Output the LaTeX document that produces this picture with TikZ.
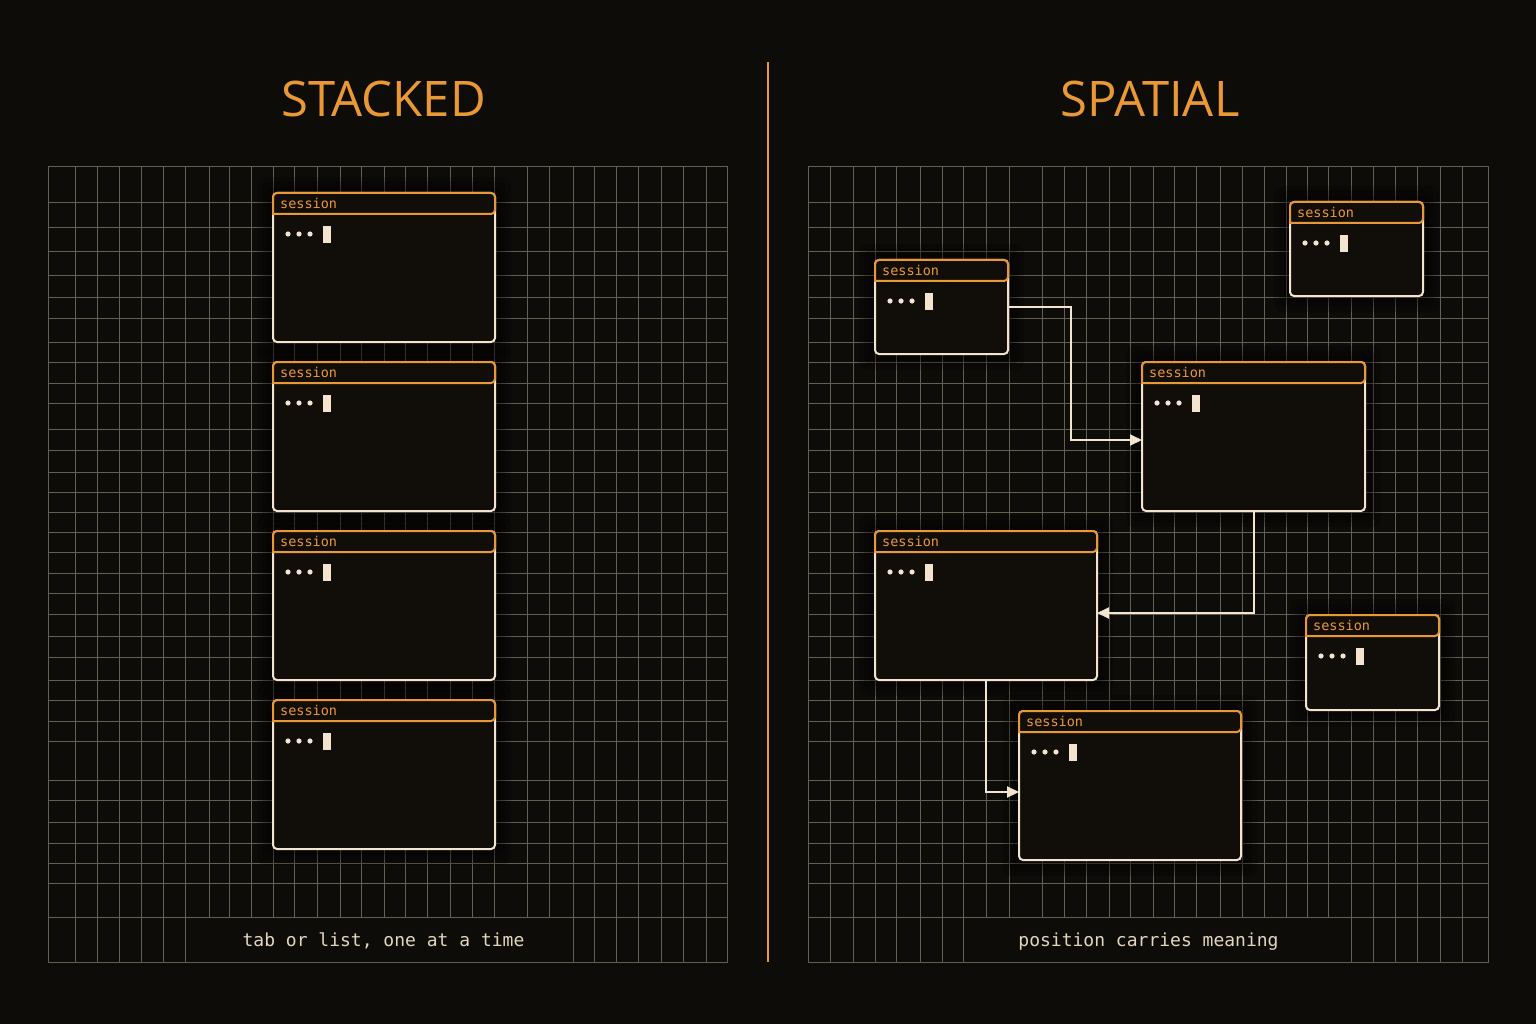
\documentclass[tikz,border=0pt]{standalone}
\usepackage{fontspec}
\setmainfont{Open Sans}
\newfontfamily\monofont{DejaVu Sans Mono}
\usetikzlibrary{arrows.meta,calc}
\definecolor{bg}{RGB}{14,12,9}
\definecolor{boxbg}{RGB}{17,14,10}
\definecolor{gridc}{RGB}{102,95,81}
\definecolor{accent}{RGB}{234,152,52}
\definecolor{cream}{RGB}{242,228,206}
\definecolor{labelc}{RGB}{228,214,190}
\tikzset{
  sbox/.style={draw=cream, fill=boxbg, line width=2pt, rounded corners=4pt, inner sep=0pt, outer sep=0pt, rectangle},
  shead/.style={draw=accent, fill=boxbg, line width=2pt},
  stitle/.style={text=accent, font=\fontsize{13.5}{14}\monofont, inner sep=0pt},
  ttl/.style={text=accent, font=\fontsize{49}{49}\selectfont, inner sep=0pt, anchor=base},
  lbl/.style={text=labelc, font=\fontsize{18}{20}\monofont, inner sep=0pt, anchor=base},
  gridline/.style={draw=gridc, line width=0.9pt},
  conn/.style={draw=cream, line width=2pt, -{Triangle[length=12pt,width=11pt]}},
}
\newcommand{\sessbox}[5]{%
  \foreach \kk in {16,11,6}{\fill[black,opacity=0.18,rounded corners=8pt] (#2-\kk,#3-\kk) rectangle (#2+#4+\kk,#3+#5+\kk);}
  \node[sbox, minimum width=#4pt, minimum height=#5pt, anchor=north west] (#1) at (#2,#3) {};
  \draw[shead] ([yshift=-21pt]#1.north west) [rounded corners=4pt] -- (#1.north west) -- (#1.north east) -- ([yshift=-21pt]#1.north east) [sharp corners] -- cycle;
  \node[stitle, anchor=west] (#1-t) at ([xshift=7pt,yshift=-10.5pt]#1.north west) {session};
  \foreach \dx in {15,26,37}{\fill[cream] ([xshift=\dx pt,yshift=-41pt]#1.north west) circle (2.6pt);}
  \fill[cream] ([xshift=50pt,yshift=-33pt]#1.north west) rectangle ([xshift=58pt,yshift=-50pt]#1.north west);
}
\begin{document}
\begin{tikzpicture}[x=1pt,y=-1pt]
\fill[bg] (0,0) rectangle (1536,1024);
\useasboundingbox (0,0) rectangle (1536,1024);
% grids
\foreach \yy in {202,227,251,275,297,318,342,362,383,403,429,450,472,492,512,532,552,573,593,614,636,657,680,700,721,741,780,800,822,843,863,883,917}{
  \draw[gridline] (48,\yy) -- (727,\yy);
  \draw[gridline] (808,\yy) -- (1488,\yy);
}
\foreach \xx in {75,97,119,141,163,185,209,229,251,273,294,317,340,361,384,405,427,450,472,494,527,549,573,594,616,638,661,683,706}{
  \draw[gridline] (\xx,166) -- (\xx,962);
}
\foreach \xx in {830,853,875,896,920,942,963,986,1009,1042,1064,1086,1109,1130,1153,1174,1196,1220,1242,1264,1286,1307,1328,1351,1373,1395,1417,1440,1462}{
  \draw[gridline] (\xx,166) -- (\xx,962);
}
\draw[gridline] (48,166) rectangle (727,962);
\draw[gridline] (808,166) rectangle (1488,962);
% label bands
\fill[bg] (185.5,918) rectangle (572.5,961.5);
\fill[bg] (964.5,918) rectangle (1350.5,961.5);
\node[lbl] (l1) at (383.5,946) {tab or list, one at a time};
\node[lbl] (l2) at (1148.5,946) {position carries meaning};
% titles and divider
\node[ttl] (t1) at (383.5,117) {STACKED};
\node[ttl] (t2) at (1150,117) {SPATIAL};
\coordinate (dtop) at (768,62);
\coordinate (dbot) at (768,962);
\draw[accent, line width=2.2pt] (dtop) -- (dbot);
% stacked boxes
\sessbox{s1}{273}{193}{222}{149}
\sessbox{s2}{273}{362}{222}{149}
\sessbox{s3}{273}{531}{222}{149}
\sessbox{s4}{273}{700}{222}{149}
% spatial boxes
\sessbox{a}{875}{260}{133}{94}
\sessbox{b}{1290}{202}{133}{94}
\sessbox{c}{1142}{362}{223}{149}
\sessbox{d}{875}{531}{222}{149}
\sessbox{e}{1306}{615}{133}{95}
\sessbox{f}{1019}{711}{222}{149}
% connectors
\draw[conn] (a.east) -- ++(63,0) |- ([yshift=-3.5pt]c.west);
\draw[conn] (c.south) |- ([yshift=-7.5pt]d.east);
\draw[conn] (d.south) |- ([yshift=-6.5pt]f.west);
\end{tikzpicture}
\end{document}
